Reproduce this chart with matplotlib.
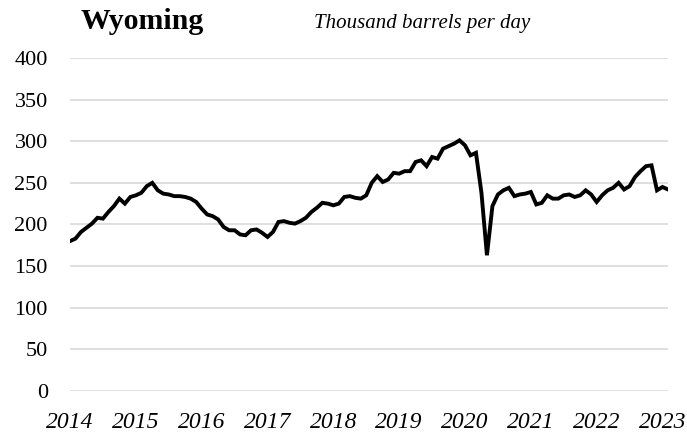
import matplotlib
matplotlib.use("Agg")
import matplotlib.pyplot as plt
import numpy as np

plt.rcParams['font.family'] = ['Liberation Serif', 'DejaVu Serif']

# Wyoming crude oil production, monthly, Jan 2014 - Feb 2023 (thousand b/d)
prod_2014 = [180, 183, 191, 196, 201, 208, 207, 215, 222, 231, 225, 233]
prod_2015 = [235, 238, 246, 250, 241, 237, 236, 234, 234, 233, 231, 227]
prod_2016 = [219, 212, 210, 206, 197, 193, 193, 188, 187, 193, 194, 190]
prod_2017 = [185, 191, 203, 204, 202, 201, 204, 208, 215, 220, 226, 225]
prod_2018 = [223, 225, 233, 234, 232, 231, 235, 250, 258, 251, 254, 262]
prod_2019 = [261, 264, 264, 275, 277, 270, 281, 279, 291, 294, 297, 301]
prod_2020 = [295, 283, 286, 238, 163, 222, 236, 241, 244, 234, 236, 237]
prod_2021 = [239, 224, 226, 235, 231, 231, 235, 236, 233, 235, 241, 236]
prod_2022 = [227, 235, 241, 244, 250, 242, 246, 257, 264, 270, 271, 241]
prod_2023 = [245, 242]

years = ['2014', '2015', '2016', '2017', '2018', '2019', '2020', '2021', '2022', '2023']
yticks = [0, 50, 100, 150, 200, 250, 300, 350, 400]

values = np.array(prod_2014 + prod_2015 + prod_2016 + prod_2017 + prod_2018 +
                  prod_2019 + prod_2020 + prod_2021 + prod_2022 + prod_2023)
months = np.arange(len(values))

fig = plt.figure(figsize=(6.87, 4.36), dpi=100)
ax = fig.add_axes([0.1019, 0.1032, 0.8704, 0.764])

ax.plot(months, values, color='black', linewidth=2.8, solid_joinstyle='miter', zorder=3)

ax.set_xlim(0, len(values) - 1)
ax.set_ylim(0, 400)
ax.set_yticks(yticks)
ax.set_yticklabels([str(t) for t in yticks], fontsize=16)
ax.set_xticks(np.arange(len(years)) * 12)
ax.set_xticklabels(years, fontsize=17, style='italic')

ax.grid(axis='y', color='#d9d9d9', linewidth=1.2)
ax.set_axisbelow(True)
for s in ax.spines.values():
    s.set_visible(False)
ax.tick_params(axis='y', length=0, pad=16)
ax.tick_params(axis='x', length=0, pad=15)

fig.text(81 / 687, 1 - 29 / 436, 'Wyoming', fontsize=21.5, fontweight='bold', va='baseline')
fig.text(314 / 687, 1 - 28 / 436, 'Thousand barrels per day', fontsize=15, style='italic',
         va='baseline')

fig.savefig('out.png', dpi=100)
